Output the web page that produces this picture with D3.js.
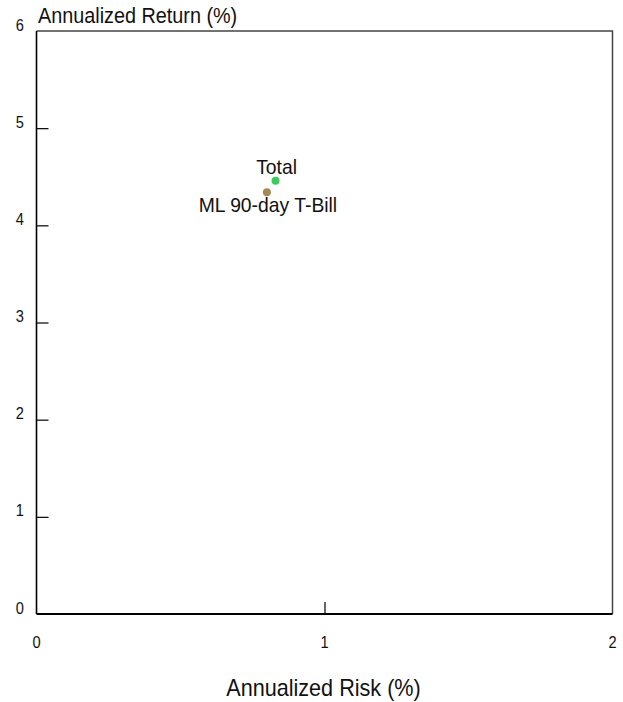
<!DOCTYPE html>
<html>
<head>
<meta charset="utf-8">
<script src="https://cdn.jsdelivr.net/npm/d3@7"></script>
<style>
html,body{margin:0;padding:0;background:#fff;}
svg{display:block;}
text{font-family:"Liberation Sans",Arial,sans-serif;fill:#111;}
</style>
</head>
<body>
<svg id="chart" width="623" height="702"></svg>
<script>
const names = ["Total", "ML 90-day T-Bill"];
const risk = [0.83, 0.80];
const ret = [4.46, 4.34];
const colors = ["#3ec95c", "#a38a4e"];
const labelPos = ["above", "below"];
const xTicks = [0, 1, 2];
const yTicks = [0, 1, 2, 3, 4, 5, 6];
const xTitle = "Annualized Risk (%)";
const yTitle = "Annualized Return (%)";

const svg = d3.select("#chart");
const m = {left: 36.5, right: 612.5, top: 31, bottom: 614};
const x = d3.scaleLinear().domain([0, 2]).range([m.left, m.right]);
const y = d3.scaleLinear().domain([0, 6]).range([m.bottom, m.top]);

// condense text horizontally to mimic the narrow original face
function condense(sel, ratio) {
  sel.each(function () {
    const w = this.getComputedTextLength();
    d3.select(this).attr("textLength", w * ratio).attr("lengthAdjust", "spacingAndGlyphs");
  });
}

// frame top & right
svg.append("path")
  .attr("d", `M${m.left},${m.top}H${m.right}V${m.bottom}`)
  .attr("fill", "none").attr("stroke", "#444").attr("stroke-width", 1.5);

// left axis (ticks inward)
const yAxis = d3.axisRight(y).tickValues(yTicks.filter(d => d > 0 && d < 6)).tickSize(12).tickFormat("");
const gy = svg.append("g").attr("transform", `translate(${m.left},0)`).call(yAxis);
gy.select(".domain").remove();
gy.selectAll(".tick line").attr("stroke", "#000").attr("stroke-width", 1.2);
svg.append("line").attr("x1", m.left).attr("x2", m.left).attr("y1", m.top).attr("y2", m.bottom)
  .attr("stroke", "#000").attr("stroke-width", 1.6);

// y tick labels
svg.append("g").selectAll("text").data(yTicks).join("text")
  .attr("x", 24).attr("y", d => y(d) - 0.5)
  .attr("text-anchor", "end").attr("font-size", 17).text(d => d)
  .call(condense, 0.86);

// bottom axis (ticks inward)
const xAxis = d3.axisTop(x).tickValues(xTicks.filter(d => d > 0 && d < 2)).tickSize(12).tickFormat("");
const gx = svg.append("g").attr("transform", `translate(0,${m.bottom})`).call(xAxis);
gx.select(".domain").remove();
gx.selectAll(".tick line").attr("stroke", "#000").attr("stroke-width", 1.2);
svg.append("line").attr("x1", m.left).attr("x2", m.right).attr("y1", m.bottom).attr("y2", m.bottom)
  .attr("stroke", "#000").attr("stroke-width", 2);

svg.append("g").selectAll("text").data(xTicks).join("text")
  .attr("x", d => x(d)).attr("y", 648)
  .attr("text-anchor", "middle").attr("font-size", 17).text(d => d)
  .call(condense, 0.86);

// titles
svg.append("text").attr("x", 38).attr("y", 23).attr("font-size", 22).text(yTitle)
  .call(condense, 0.9);
svg.append("text").attr("x", 323.5).attr("y", 696).attr("text-anchor", "middle").attr("font-size", 24).text(xTitle)
  .call(condense, 0.9);

// points
const pts = names.map((n, i) => ({n, r: risk[i], v: ret[i], c: colors[i], p: labelPos[i]}));
svg.append("g").selectAll("circle").data(pts).join("circle")
  .attr("cx", d => x(d.r)).attr("cy", d => y(d.v)).attr("r", 4).attr("fill", d => d.c);
svg.append("g").selectAll("text").data(pts).join("text")
  .attr("x", d => x(d.r) + 1)
  .attr("y", d => d.p === "above" ? y(d.v) - 7 : y(d.v) + 20)
  .attr("text-anchor", "middle").attr("font-size", 21).text(d => d.n)
  .call(condense, 0.92);
</script>
</body>
</html>
